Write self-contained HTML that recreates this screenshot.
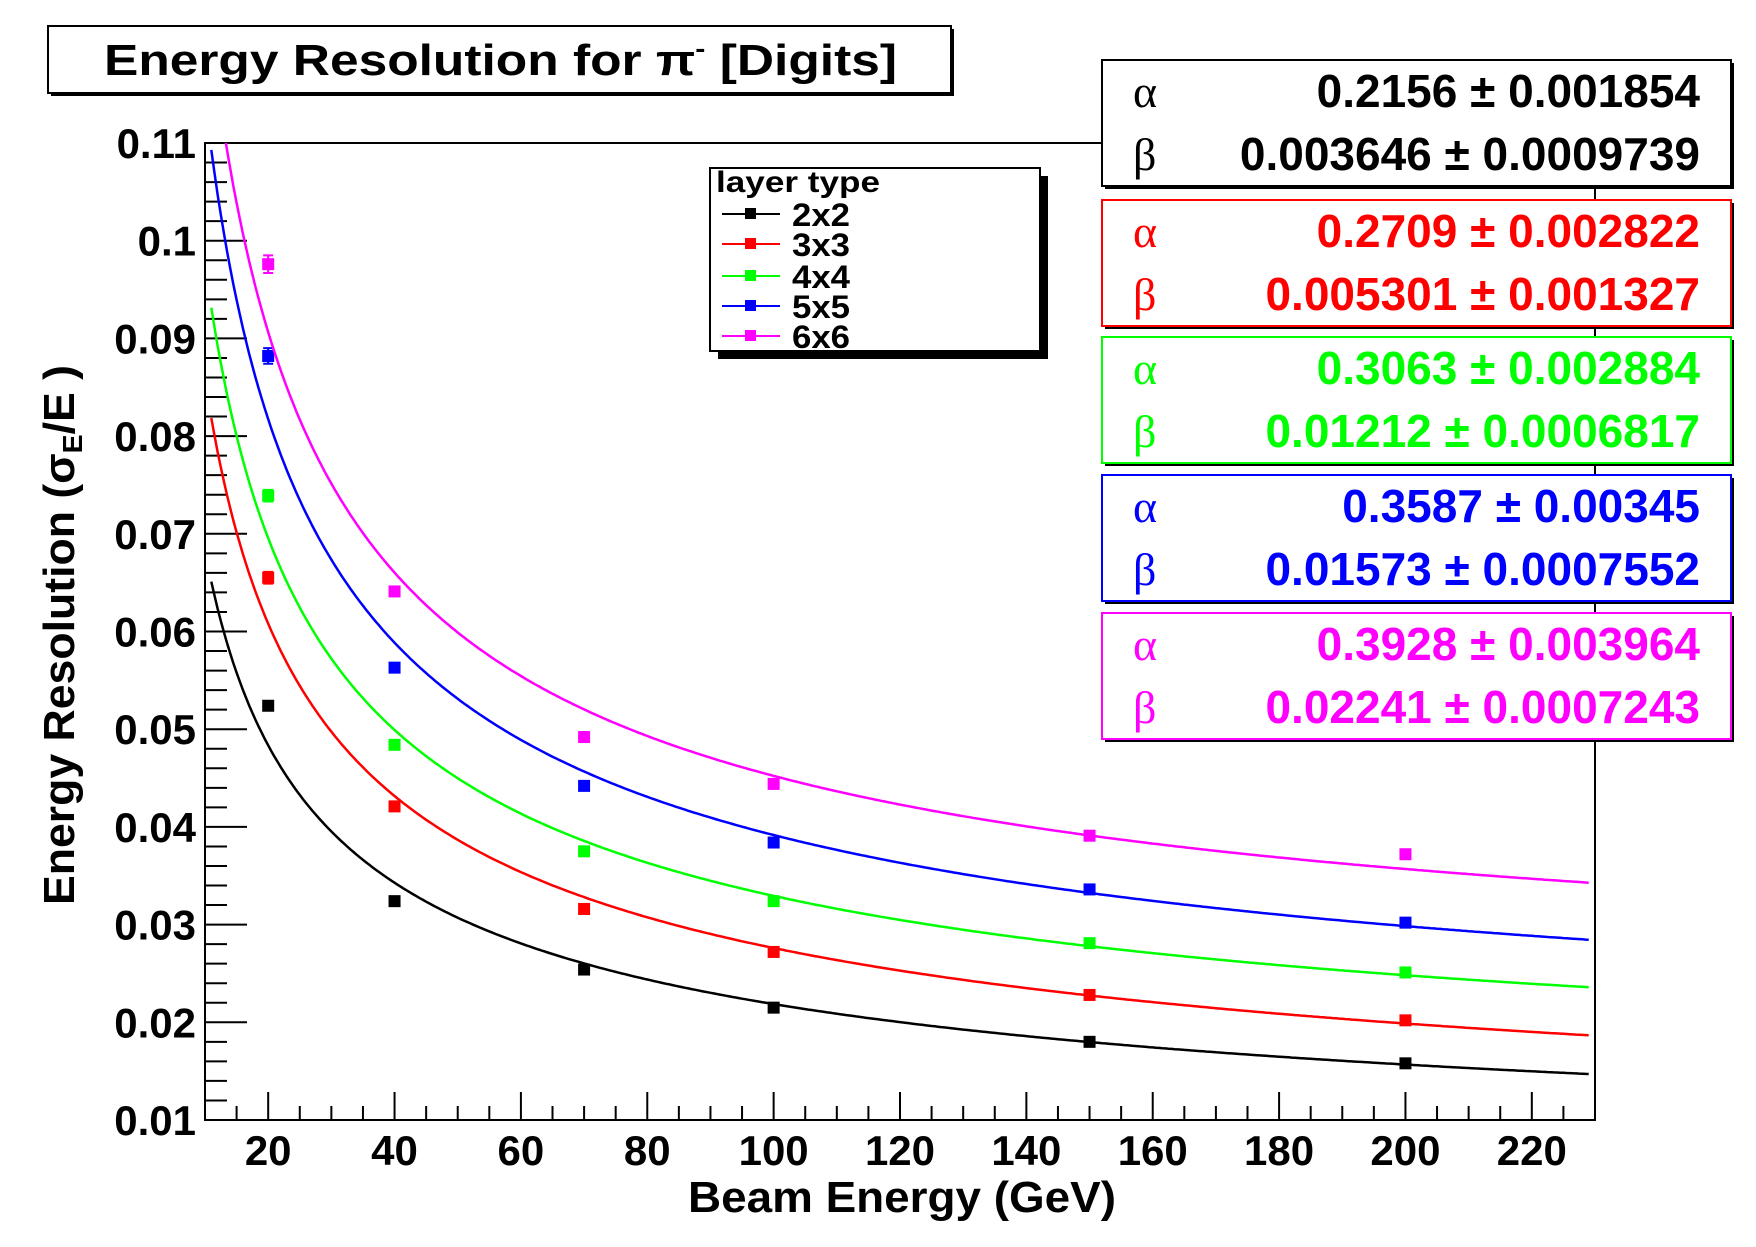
<!DOCTYPE html>
<html><head><meta charset="utf-8">
<style>
html,body{margin:0;padding:0;background:#fff;}
svg{display:block;font-family:"Liberation Sans",sans-serif;font-weight:bold;}
</style></head>
<body>
<svg id="chart" width="1756" height="1247" viewBox="0 0 1756 1247" xmlns="http://www.w3.org/2000/svg">
<rect x="0" y="0" width="1756" height="1247" fill="#fff"/>
<g id="plot"></g>
<g id="axes"></g>
<g id="marks"></g>
<!-- title -->
<g>
<rect x="51" y="29" width="903" height="67" fill="#000"/>
<rect x="48" y="26" width="903" height="67" fill="#fff" stroke="#000" stroke-width="2"/>
<text x="104" y="75" font-size="44" textLength="793" lengthAdjust="spacingAndGlyphs">Energy Resolution for π<tspan font-size="26" dy="-18">-</tspan><tspan dy="18"> [Digits]</tspan></text>
</g>
<!-- axis titles -->
<text x="688" y="1212" font-size="44" textLength="428" lengthAdjust="spacingAndGlyphs">Beam Energy (GeV)</text>
<text transform="translate(74,905) rotate(-90)" font-size="44" textLength="540" lengthAdjust="spacingAndGlyphs">Energy Resolution (σ<tspan font-size="28" dy="8">E</tspan><tspan dy="-8">/E )</tspan></text>
<g id="legend"></g>
<g id="stats"></g>
</svg>
<script>
const seriesNames = ["2x2","3x3","4x4","5x5","6x6"];
const seriesColors = ["#000000","#ff0000","#00ff00","#0000ff","#ff00ff"];
const energies = [20,40,70,100,150,200];
const res2x2 = [0.0524,0.0324,0.0254,0.0215,0.0180,0.0158];
const res3x3 = [0.0655,0.0421,0.0316,0.0272,0.0228,0.0202];
const res4x4 = [0.0739,0.0484,0.0375,0.0324,0.0281,0.0251];
const res5x5 = [0.0882,0.0563,0.0442,0.0384,0.0336,0.0302];
const res6x6 = [0.0976,0.0641,0.0492,0.0444,0.0391,0.0372];
const err20 = [0.0003,0.0006,0.0006,0.0008,0.0009];
const alphaVals = ["0.2156","0.2709","0.3063","0.3587","0.3928"];
const alphaErrs = ["0.001854","0.002822","0.002884","0.00345","0.003964"];
const betaVals = ["0.003646","0.005301","0.01212","0.01573","0.02241"];
const betaErrs = ["0.0009739","0.001327","0.0006817","0.0007552","0.0007243"];
const xTicks = [20,40,60,80,100,120,140,160,180,200,220];
const yTicks = [0.01,0.02,0.03,0.04,0.05,0.06,0.07,0.08,0.09,0.1,0.11];
const allRes = [res2x2,res3x3,res4x4,res5x5,res6x6];

const NS="http://www.w3.org/2000/svg";
const L=205,R=1595,T=143,B=1120;
const X0=10,X1=230,Y0=0.01,Y1=0.11;
const sx=v=>L+(v-X0)/(X1-X0)*(R-L);
const sy=v=>B-(v-Y0)/(Y1-Y0)*(B-T);
function mk(tag,attrs,parent){const e=document.createElementNS(NS,tag);for(const k in attrs)e.setAttribute(k,attrs[k]);parent.appendChild(e);return e;}
const plot=document.getElementById('plot'),axes=document.getElementById('axes'),marks=document.getElementById('marks');

// frame
let fr=mk('rect',{x:L,y:T,width:R-L,height:B-T,fill:'none',stroke:'#000','stroke-width':2},plot);



// x ticks
for(let v=15;v<=X1;v+=5){
  const major=v%20===0;
  const t=mk('line',{x1:sx(v),x2:sx(v),y1:B,y2:B-(major?28:14),stroke:'#000','stroke-width':2},axes);
  
  
}
xTicks.forEach(v=>{
  const t=mk('text',{x:sx(v),y:1165,'font-size':42,'text-anchor':'middle'},axes);
  t.textContent=v;
  
  
});
// y ticks
for(let i=0;i<=50;i++){
  const v=Y0+i*0.002;const major=i%5===0;
  const t=mk('line',{x1:L,x2:L+(major?42:22),y1:sy(v),y2:sy(v),stroke:'#000','stroke-width':2},axes);
  
  
}
yTicks.forEach(v=>{
  const t=mk('text',{x:196,y:sy(v)+15,'font-size':42,'text-anchor':'end'},axes);
  t.textContent=String(+v.toFixed(2));
  
  
});

// curves & points
const clip=mk('clipPath',{id:'pc'},plot);
mk('rect',{x:L,y:T,width:R-L,height:B-T},clip);
const alphaNum=alphaVals.map(Number), betaNum=betaVals.map(Number);
allRes.forEach((arr,s)=>{
  const a=alphaNum[s],b=betaNum[s];let d='';
  for(let E=11;E<=229;E+=0.5){const y=Math.sqrt(a*a/E+b*b);d+=(d?'L':'M')+sx(E).toFixed(1)+','+sy(y).toFixed(1);}
  const p=mk('path',{d:d,fill:'none',stroke:seriesColors[s],'stroke-width':2.5,'clip-path':'url(#pc)'},marks);
  
  
  arr.forEach((v,i)=>{
    const cx=sx(energies[i]),cy=sy(v);
    if(i===0){
      const e=err20[s];
      const eb=mk('path',{d:`M${cx},${sy(v+e)}V${sy(v-e)}M${cx-5},${sy(v+e)}H${cx+5}M${cx-5},${sy(v-e)}H${cx+5}`,stroke:seriesColors[s],'stroke-width':2,fill:'none'},marks);
      
      
    }
    const r=mk('rect',{x:cx-6,y:cy-6,width:12,height:12,fill:seriesColors[s]},marks);
    
    
  });
});

// legend
const lg=document.getElementById('legend');
mk('rect',{x:718,y:176,width:330,height:183,fill:'#000'},lg);
const lb=mk('rect',{x:710,y:168,width:330,height:183,fill:'#fff',stroke:'#000','stroke-width':2},lg);


let lt=mk('text',{x:716,y:192,'font-size':30,textLength:164,lengthAdjust:'spacingAndGlyphs'},lg);
lt.textContent='layer type';


const legY=[214,244,276,306,336];
seriesNames.forEach((n,s)=>{
  const y=legY[s];
  mk('line',{x1:722,x2:780,y1:y,y2:y,stroke:seriesColors[s],'stroke-width':2},lg);
  mk('rect',{x:745,y:y-6,width:11,height:11,fill:seriesColors[s]},lg);
  const t=mk('text',{x:792,y:y+12,'font-size':32,textLength:58,lengthAdjust:'spacingAndGlyphs'},lg);
  t.textContent=n;
  
  
});

// stats boxes
const st=document.getElementById('stats');
const boxY=[60,200,337,475,613];
seriesNames.forEach((n,s)=>{
  const y=boxY[s],c=seriesColors[s];
  mk('rect',{x:1105,y:y+3,width:629,height:126,fill:'#000'},st);
  const bx=mk('rect',{x:1102,y:y,width:629,height:126,fill:'#fff',stroke:c,'stroke-width':2},st);
  
  
  const ga=mk('text',{x:1133,y:y+47,'font-size':46,fill:c,'font-family':'"Liberation Serif",serif','font-weight':'normal'},st);
  ga.textContent='α';
  const gb=mk('text',{x:1133,y:y+110,'font-size':46,fill:c,'font-family':'"Liberation Serif",serif','font-weight':'normal'},st);
  gb.textContent='β';
  const ta=mk('text',{x:1700,y:y+47,'font-size':46,fill:c,'text-anchor':'end'},st);
  ta.textContent=alphaVals[s]+' ± '+alphaErrs[s];
  
  
  const tb=mk('text',{x:1700,y:y+110,'font-size':46,fill:c,'text-anchor':'end'},st);
  tb.textContent=betaVals[s]+' ± '+betaErrs[s];
  
  
});
</script>
</body></html>
